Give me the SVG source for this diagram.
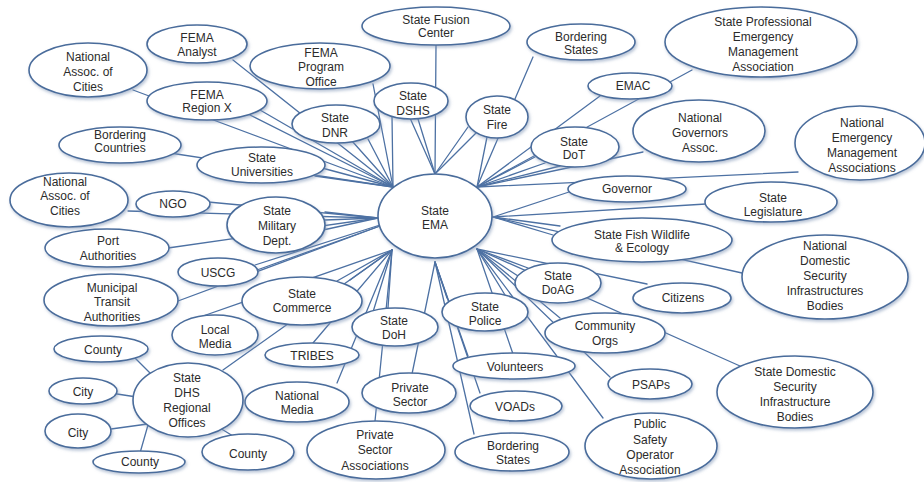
<svg xmlns="http://www.w3.org/2000/svg" width="924" height="482" viewBox="0 0 924 482">
<defs>
<filter id="sh" x="-10%" y="-10%" width="125%" height="135%">
<feDropShadow dx="1.2" dy="2" stdDeviation="1.4" flood-color="#7f95b5" flood-opacity="0.55"/>
</filter>
<style>
.bg{fill:#ffffff}
.n ellipse{fill:#ffffff;stroke:#4a6c9b;stroke-width:1.6;filter:url(#sh)}
.n text{font-family:"Liberation Sans",Arial,sans-serif;font-size:12px;fill:#2b2b2b;text-anchor:middle}
#connectors line{stroke:#4d71a3;stroke-width:1.3;stroke-linecap:round}
</style>
</defs>
<rect class="bg" x="0" y="0" width="924" height="482"/>
<g id="connectors">
<!-- upper-left hub -->
<line x1="233" y1="60" x2="393" y2="187"/>
<line x1="133" y1="90" x2="393" y2="187"/>
<line x1="250" y1="115" x2="393" y2="187"/>
<line x1="260" y1="110" x2="393" y2="187"/>
<line x1="373" y1="84" x2="393" y2="187"/>
<line x1="352" y1="141" x2="393" y2="187"/>
<line x1="368" y1="139" x2="393" y2="187"/>
<line x1="392" y1="116" x2="393" y2="187"/>
<line x1="322" y1="168" x2="393" y2="187"/>
<line x1="315" y1="176" x2="393" y2="187"/>
<line x1="170" y1="153" x2="393" y2="187"/>
<!-- top hub -->
<line x1="436" y1="45" x2="435" y2="174"/>
<line x1="410" y1="118" x2="435" y2="174"/>
<line x1="418" y1="119" x2="435" y2="174"/>
<line x1="468" y1="127" x2="435" y2="174"/>
<line x1="476" y1="133" x2="435" y2="174"/>
<!-- upper-right hub -->
<line x1="487" y1="137" x2="477" y2="187"/>
<line x1="533" y1="57" x2="477" y2="187"/>
<line x1="600" y1="96" x2="477" y2="187"/>
<line x1="692" y1="70" x2="477" y2="187"/>
<line x1="535" y1="157" x2="477" y2="187"/>
<line x1="545" y1="163" x2="477" y2="187"/>
<line x1="560" y1="166" x2="477" y2="187"/>
<line x1="643" y1="152" x2="477" y2="187"/>
<line x1="798" y1="172" x2="477" y2="187"/>
<!-- right hub -->
<line x1="569" y1="192" x2="493" y2="217"/>
<line x1="706" y1="204" x2="493" y2="217"/>
<line x1="553" y1="235" x2="493" y2="217"/>
<line x1="560" y1="226" x2="493" y2="217"/>
<line x1="742" y1="273" x2="493" y2="217"/>
<!-- lower-right hub -->
<line x1="505" y1="295" x2="477" y2="249"/>
<line x1="513" y1="354" x2="477" y2="249"/>
<line x1="518" y1="276" x2="477" y2="249"/>
<line x1="528" y1="268" x2="477" y2="249"/>
<line x1="647" y1="284" x2="477" y2="249"/>
<line x1="560" y1="318" x2="477" y2="249"/>
<line x1="740" y1="366" x2="477" y2="249"/>
<line x1="610" y1="377" x2="477" y2="249"/>
<line x1="603" y1="418" x2="477" y2="249"/>
<!-- bottom hub -->
<line x1="412" y1="374" x2="435" y2="262"/>
<line x1="447" y1="298" x2="435" y2="262"/>
<line x1="468" y1="356" x2="435" y2="262"/>
<line x1="480" y1="393" x2="435" y2="262"/>
<line x1="474" y1="434" x2="435" y2="262"/>
<!-- lower-left hub -->
<line x1="337" y1="281" x2="392" y2="250"/>
<line x1="350" y1="280" x2="392" y2="250"/>
<line x1="203" y1="316" x2="392" y2="250"/>
<line x1="223" y1="370" x2="392" y2="250"/>
<line x1="313" y1="343" x2="392" y2="250"/>
<line x1="337" y1="383" x2="392" y2="250"/>
<line x1="373" y1="312" x2="392" y2="250"/>
<line x1="388" y1="308" x2="392" y2="250"/>
<line x1="375" y1="421" x2="392" y2="250"/>
<!-- left hub -->
<line x1="325" y1="212" x2="378" y2="218"/>
<line x1="325" y1="220" x2="378" y2="218"/>
<line x1="323" y1="230" x2="378" y2="218"/>
<line x1="208" y1="202" x2="378" y2="218"/>
<line x1="128" y1="211" x2="378" y2="218"/>
<line x1="168" y1="248" x2="378" y2="218"/>
<line x1="255" y1="265" x2="380" y2="225"/>
<line x1="257" y1="270" x2="380" y2="226"/>
<line x1="178" y1="301" x2="380" y2="226"/>
<!-- regional offices -->
<line x1="133" y1="356" x2="160" y2="383"/>
<line x1="117" y1="394" x2="150" y2="399"/>
<line x1="111" y1="429" x2="155" y2="423"/>
<line x1="140" y1="453" x2="150" y2="418"/>
<line x1="233" y1="436" x2="210" y2="422"/>
</g>
<g id="ema" class="n"><ellipse cx="435" cy="216" rx="57" ry="42"/><text><tspan x="435" y="215">State</tspan><tspan x="435" y="229">EMA</tspan></text></g>
<g id="fusion" class="n"><ellipse cx="436" cy="26" rx="74" ry="19"/><text><tspan x="436" y="24">State Fusion</tspan><tspan x="436" y="37">Center</tspan></text></g>
<g id="bordering-states-top" class="n"><ellipse cx="581" cy="42" rx="54" ry="18"/><text><tspan x="581" y="41">Bordering</tspan><tspan x="581" y="54">States</tspan></text></g>
<g id="fema-program" class="n"><ellipse cx="320" cy="66" rx="70" ry="23"/><text><tspan x="321" y="57">FEMA</tspan><tspan x="321" y="71">Program</tspan><tspan x="321" y="86">Office</tspan></text></g>
<g id="fema-analyst" class="n"><ellipse cx="197" cy="44" rx="50" ry="19"/><text><tspan x="197" y="42">FEMA</tspan><tspan x="197" y="56">Analyst</tspan></text></g>
<g id="nat-assoc-cities-1" class="n"><ellipse cx="88" cy="70" rx="59" ry="27"/><text><tspan x="88" y="61">National</tspan><tspan x="88" y="76">Assoc. of</tspan><tspan x="88" y="91">Cities</tspan></text></g>
<g id="fema-region" class="n"><ellipse cx="207" cy="101" rx="60" ry="19"/><text><tspan x="207" y="99">FEMA</tspan><tspan x="207" y="112">Region X</tspan></text></g>
<g id="dnr" class="n"><ellipse cx="336" cy="124" rx="44" ry="19"/><text><tspan x="335" y="122">State</tspan><tspan x="335" y="137">DNR</tspan></text></g>
<g id="dshs" class="n"><ellipse cx="411" cy="101" rx="37" ry="18"/><text><tspan x="413" y="100">State</tspan><tspan x="413" y="115">DSHS</tspan></text></g>
<g id="fire" class="n"><ellipse cx="497" cy="117" rx="31" ry="21"/><text><tspan x="497" y="114">State</tspan><tspan x="497" y="129">Fire</tspan></text></g>
<g id="emac" class="n"><ellipse cx="630" cy="86" rx="42" ry="13"/><text><tspan x="633" y="90">EMAC</tspan></text></g>
<g id="spema" class="n"><ellipse cx="761" cy="42" rx="96" ry="35"/><text><tspan x="763" y="26">State Professional</tspan><tspan x="763" y="41">Emergency</tspan><tspan x="763" y="56">Management</tspan><tspan x="763" y="71">Association</tspan></text></g>
<g id="dot" class="n"><ellipse cx="575" cy="147" rx="44" ry="20"/><text><tspan x="574" y="146">State</tspan><tspan x="574" y="159">DoT</tspan></text></g>
<g id="nga" class="n"><ellipse cx="699" cy="131" rx="66" ry="31"/><text><tspan x="700" y="122">National</tspan><tspan x="700" y="137">Governors</tspan><tspan x="700" y="152">Assoc.</tspan></text></g>
<g id="nema" class="n"><ellipse cx="860" cy="143" rx="65" ry="37"/><text><tspan x="862" y="127">National</tspan><tspan x="862" y="142">Emergency</tspan><tspan x="862" y="157">Management</tspan><tspan x="862" y="172">Associations</tspan></text></g>
<g id="governor" class="n"><ellipse cx="627" cy="189" rx="59" ry="13"/><text><tspan x="627" y="193">Governor</tspan></text></g>
<g id="legislature" class="n"><ellipse cx="771" cy="202" rx="66" ry="20"/><text><tspan x="773" y="202">State</tspan><tspan x="773" y="216">Legislature</tspan></text></g>
<g id="fish-wildlife" class="n"><ellipse cx="642" cy="240" rx="90" ry="22"/><text><tspan x="642" y="239">State Fish Wildlife</tspan><tspan x="642" y="252">&amp; Ecology</tspan></text></g>
<g id="nat-domestic-security" class="n"><ellipse cx="825" cy="277" rx="83" ry="42"/><text><tspan x="825" y="250">National</tspan><tspan x="825" y="265">Domestic</tspan><tspan x="825" y="280">Security</tspan><tspan x="825" y="295">Infrastructures</tspan><tspan x="825" y="310">Bodies</tspan></text></g>
<g id="citizens" class="n"><ellipse cx="682" cy="298" rx="49" ry="15"/><text><tspan x="683" y="302">Citizens</tspan></text></g>
<g id="doag" class="n"><ellipse cx="558" cy="283" rx="43" ry="20"/><text><tspan x="558" y="280">State</tspan><tspan x="558" y="294">DoAG</tspan></text></g>
<g id="community-orgs" class="n"><ellipse cx="605" cy="333" rx="60" ry="20"/><text><tspan x="605" y="330">Community</tspan><tspan x="605" y="345">Orgs</tspan></text></g>
<g id="state-domestic-security" class="n"><ellipse cx="795" cy="392" rx="78" ry="36"/><text><tspan x="795" y="376">State Domestic</tspan><tspan x="795" y="391">Security</tspan><tspan x="795" y="406">Infrastructure</tspan><tspan x="795" y="421">Bodies</tspan></text></g>
<g id="psaps" class="n"><ellipse cx="650" cy="384" rx="42" ry="15"/><text><tspan x="651" y="389">PSAPs</tspan></text></g>
<g id="psoa" class="n"><ellipse cx="651" cy="446" rx="66" ry="33"/><text><tspan x="650" y="428">Public</tspan><tspan x="650" y="444">Safety</tspan><tspan x="650" y="459">Operator</tspan><tspan x="650" y="474">Association</tspan></text></g>
<g id="police" class="n"><ellipse cx="485" cy="312" rx="43" ry="19"/><text><tspan x="485" y="311">State</tspan><tspan x="485" y="325">Police</tspan></text></g>
<g id="volunteers" class="n"><ellipse cx="514" cy="366" rx="61" ry="13"/><text><tspan x="515" y="371">Volunteers</tspan></text></g>
<g id="voads" class="n"><ellipse cx="516" cy="406" rx="46" ry="15"/><text><tspan x="515" y="411">VOADs</tspan></text></g>
<g id="bordering-states-bottom" class="n"><ellipse cx="512" cy="452" rx="57" ry="19"/><text><tspan x="513" y="450">Bordering</tspan><tspan x="513" y="464">States</tspan></text></g>
<g id="doh" class="n"><ellipse cx="395" cy="327" rx="43" ry="19"/><text><tspan x="394" y="325">State</tspan><tspan x="394" y="339">DoH</tspan></text></g>
<g id="private-sector" class="n"><ellipse cx="409" cy="393" rx="47" ry="20"/><text><tspan x="410" y="392">Private</tspan><tspan x="410" y="406">Sector</tspan></text></g>
<g id="private-sector-assoc" class="n"><ellipse cx="376" cy="450" rx="69" ry="29"/><text><tspan x="375" y="439">Private</tspan><tspan x="375" y="454">Sector</tspan><tspan x="375" y="470">Associations</tspan></text></g>
<g id="commerce" class="n"><ellipse cx="302" cy="301" rx="60" ry="24"/><text><tspan x="302" y="298">State</tspan><tspan x="302" y="312">Commerce</tspan></text></g>
<g id="tribes" class="n"><ellipse cx="312" cy="355" rx="47" ry="12"/><text><tspan x="312" y="360">TRIBES</tspan></text></g>
<g id="national-media" class="n"><ellipse cx="297" cy="402" rx="52" ry="20"/><text><tspan x="297" y="400">National</tspan><tspan x="297" y="414">Media</tspan></text></g>
<g id="local-media" class="n"><ellipse cx="215" cy="335" rx="43" ry="20"/><text><tspan x="215" y="334">Local</tspan><tspan x="215" y="348">Media</tspan></text></g>
<g id="uscg" class="n"><ellipse cx="218" cy="272" rx="40" ry="14"/><text><tspan x="218" y="277">USCG</tspan></text></g>
<g id="military" class="n"><ellipse cx="276" cy="225" rx="49" ry="28"/><text><tspan x="277" y="215">State</tspan><tspan x="277" y="230">Military</tspan><tspan x="277" y="245">Dept.</tspan></text></g>
<g id="ngo" class="n"><ellipse cx="173" cy="204" rx="37" ry="13"/><text><tspan x="173" y="208">NGO</tspan></text></g>
<g id="nat-assoc-cities-2" class="n"><ellipse cx="69" cy="200" rx="59" ry="27"/><text><tspan x="65" y="186">National</tspan><tspan x="65" y="200">Assoc. of</tspan><tspan x="65" y="215">Cities</tspan></text></g>
<g id="bordering-countries" class="n"><ellipse cx="120" cy="145" rx="61" ry="18"/><text><tspan x="120" y="139">Bordering</tspan><tspan x="120" y="152">Countries</tspan></text></g>
<g id="universities" class="n"><ellipse cx="261" cy="165" rx="64" ry="18"/><text><tspan x="262" y="162">State</tspan><tspan x="262" y="176">Universities</tspan></text></g>
<g id="port" class="n"><ellipse cx="107" cy="248" rx="62" ry="19"/><text><tspan x="108" y="245">Port</tspan><tspan x="108" y="260">Authorities</tspan></text></g>
<g id="municipal-transit" class="n"><ellipse cx="111" cy="300" rx="67" ry="26"/><text><tspan x="112" y="292">Municipal</tspan><tspan x="112" y="306">Transit</tspan><tspan x="112" y="321">Authorities</tspan></text></g>
<g id="county-1" class="n"><ellipse cx="101" cy="349" rx="47" ry="13"/><text><tspan x="103" y="354">County</tspan></text></g>
<g id="city-1" class="n"><ellipse cx="83" cy="391" rx="34" ry="13"/><text><tspan x="83" y="396">City</tspan></text></g>
<g id="dhs-regional" class="n"><ellipse cx="188" cy="400" rx="55" ry="37"/><text><tspan x="187" y="382">State</tspan><tspan x="187" y="397">DHS</tspan><tspan x="187" y="412">Regional</tspan><tspan x="187" y="427">Offices</tspan></text></g>
<g id="city-2" class="n"><ellipse cx="78" cy="431" rx="33" ry="17"/><text><tspan x="78" y="437">City</tspan></text></g>
<g id="county-2" class="n"><ellipse cx="139" cy="462" rx="46" ry="11"/><text><tspan x="140" y="466">County</tspan></text></g>
<g id="county-3" class="n"><ellipse cx="248" cy="452" rx="46" ry="18"/><text><tspan x="248" y="458">County</tspan></text></g>
</svg>
